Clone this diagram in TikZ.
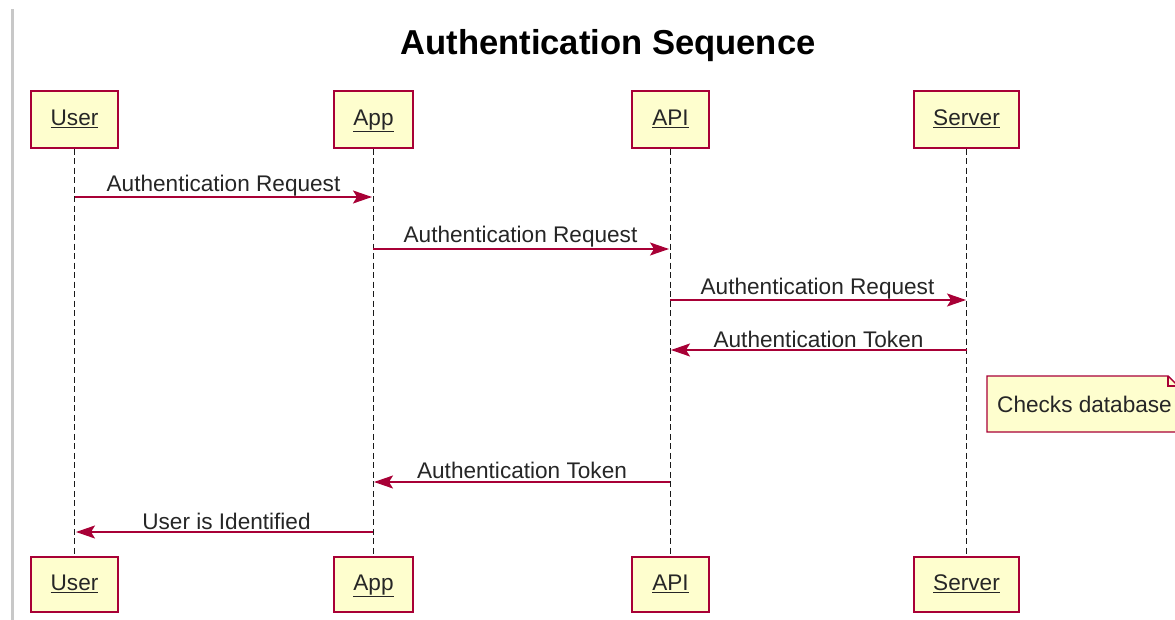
\documentclass[tikz,border=0pt]{standalone}
\usepackage{fontspec}
\setmainfont{Liberation Sans}
\usetikzlibrary{arrows.meta}
\definecolor{umlred}{HTML}{A80036}
\definecolor{umlfill}{HTML}{FEFECE}
\definecolor{framegray}{HTML}{C8C8C8}
\tikzset{
  actorbox/.style={draw=umlred, fill=umlfill, line width=1.5pt, minimum height=57pt,
    inner sep=0pt, text height=16pt, text depth=4pt,
    font=\fontsize{22.6}{25}\selectfont, text=black!85},
  lifeline/.style={black!90, line width=1.4pt, dash pattern=on 6pt off 3.5pt},
  msg/.style={umlred, line width=1.5pt, -{Stealth[length=19pt,width=13pt,inset=4pt]}},
  msglabel/.style={font=\fontsize{22.6}{25}\selectfont, text=black!85, inner sep=0pt},
  notebox/.style={draw=umlred, fill=umlfill, line width=1.4pt},
}
\begin{document}
\begin{tikzpicture}[x=1pt,y=-1pt]
\useasboundingbox (0,0) rectangle (1175,620);
\clip (0,0) rectangle (1175,620);
\fill[white] (0,0) rectangle (1175,620);
% left frame rule
\fill[framegray] (11,9) rectangle (14,620);

% title
\node[font=\fontsize{34.6}{38}\selectfont\bfseries, text=black] (title) at (608,46) {Authentication Sequence};

% participants, top and bottom
\node[actorbox, minimum width=87pt] (userT) at (74.5,119.5) {\underline{User}};
\node[actorbox, minimum width=79pt] (appT) at (373.5,119.5) {\underline{App}};
\node[actorbox, minimum width=77pt] (apiT) at (670.5,119.5) {\underline{API}};
\node[actorbox, minimum width=105pt] (srvT) at (966.5,119.5) {\underline{Server}};
\node[actorbox, minimum width=87pt, minimum height=55pt] (userB) at (74.5,584.5) {\underline{User}};
\node[actorbox, minimum width=79pt, minimum height=55pt] (appB) at (373.5,584.5) {\underline{App}};
\node[actorbox, minimum width=77pt, minimum height=55pt] (apiB) at (670.5,584.5) {\underline{API}};
\node[actorbox, minimum width=105pt, minimum height=55pt] (srvB) at (966.5,584.5) {\underline{Server}};

% lifelines
\draw[lifeline] (userT.south) -- (userB.north);
\draw[lifeline] (appT.south) -- (appB.north);
\draw[lifeline] (apiT.south) -- (apiB.north);
\draw[lifeline] (srvT.south) -- (srvB.north);

% message end points on the lifelines
\coordinate (m1a) at (75,197);  \coordinate (m1b) at (372,197);
\coordinate (m2a) at (373,249); \coordinate (m2b) at (669,249);
\coordinate (m3a) at (670,300); \coordinate (m3b) at (966,300);
\coordinate (m4a) at (967,350); \coordinate (m4b) at (671,350);
\coordinate (m5a) at (670,482); \coordinate (m5b) at (374,482);
\coordinate (m6a) at (373,532); \coordinate (m6b) at (76,532);

\draw[msg] (m1a) -- (m1b);
\draw[msg] (m2a) -- (m2b);
\draw[msg] (m3a) -- (m3b);
\draw[msg] (m4a) -- (m4b);
\draw[msg] (m5a) -- (m5b);
\draw[msg] (m6a) -- (m6b);

% message labels
\node[msglabel] (l1) at (223.5,186) {Authentication Request};
\node[msglabel] (l2) at (520.5,237) {Authentication Request};
\node[msglabel] (l3) at (817.5,289) {Authentication Request};
\node[msglabel] (l4) at (818.5,339) {Authentication Token};
\node[msglabel] (l5) at (522,470) {Authentication Token};
\node[msglabel] (l6) at (226.5,521) {User is Identified};

% note on the server lifeline
\draw[notebox] (987,376) -- (1168,376) -- (1178,386) -- (1178,432) -- (987,432) -- cycle;
\draw[umlred, line width=1.2pt] (1168,376) -- (1168,386) -- (1178,386);
\node[msglabel, anchor=west] (note) at (997,404) {Checks database};
\end{tikzpicture}
\end{document}
